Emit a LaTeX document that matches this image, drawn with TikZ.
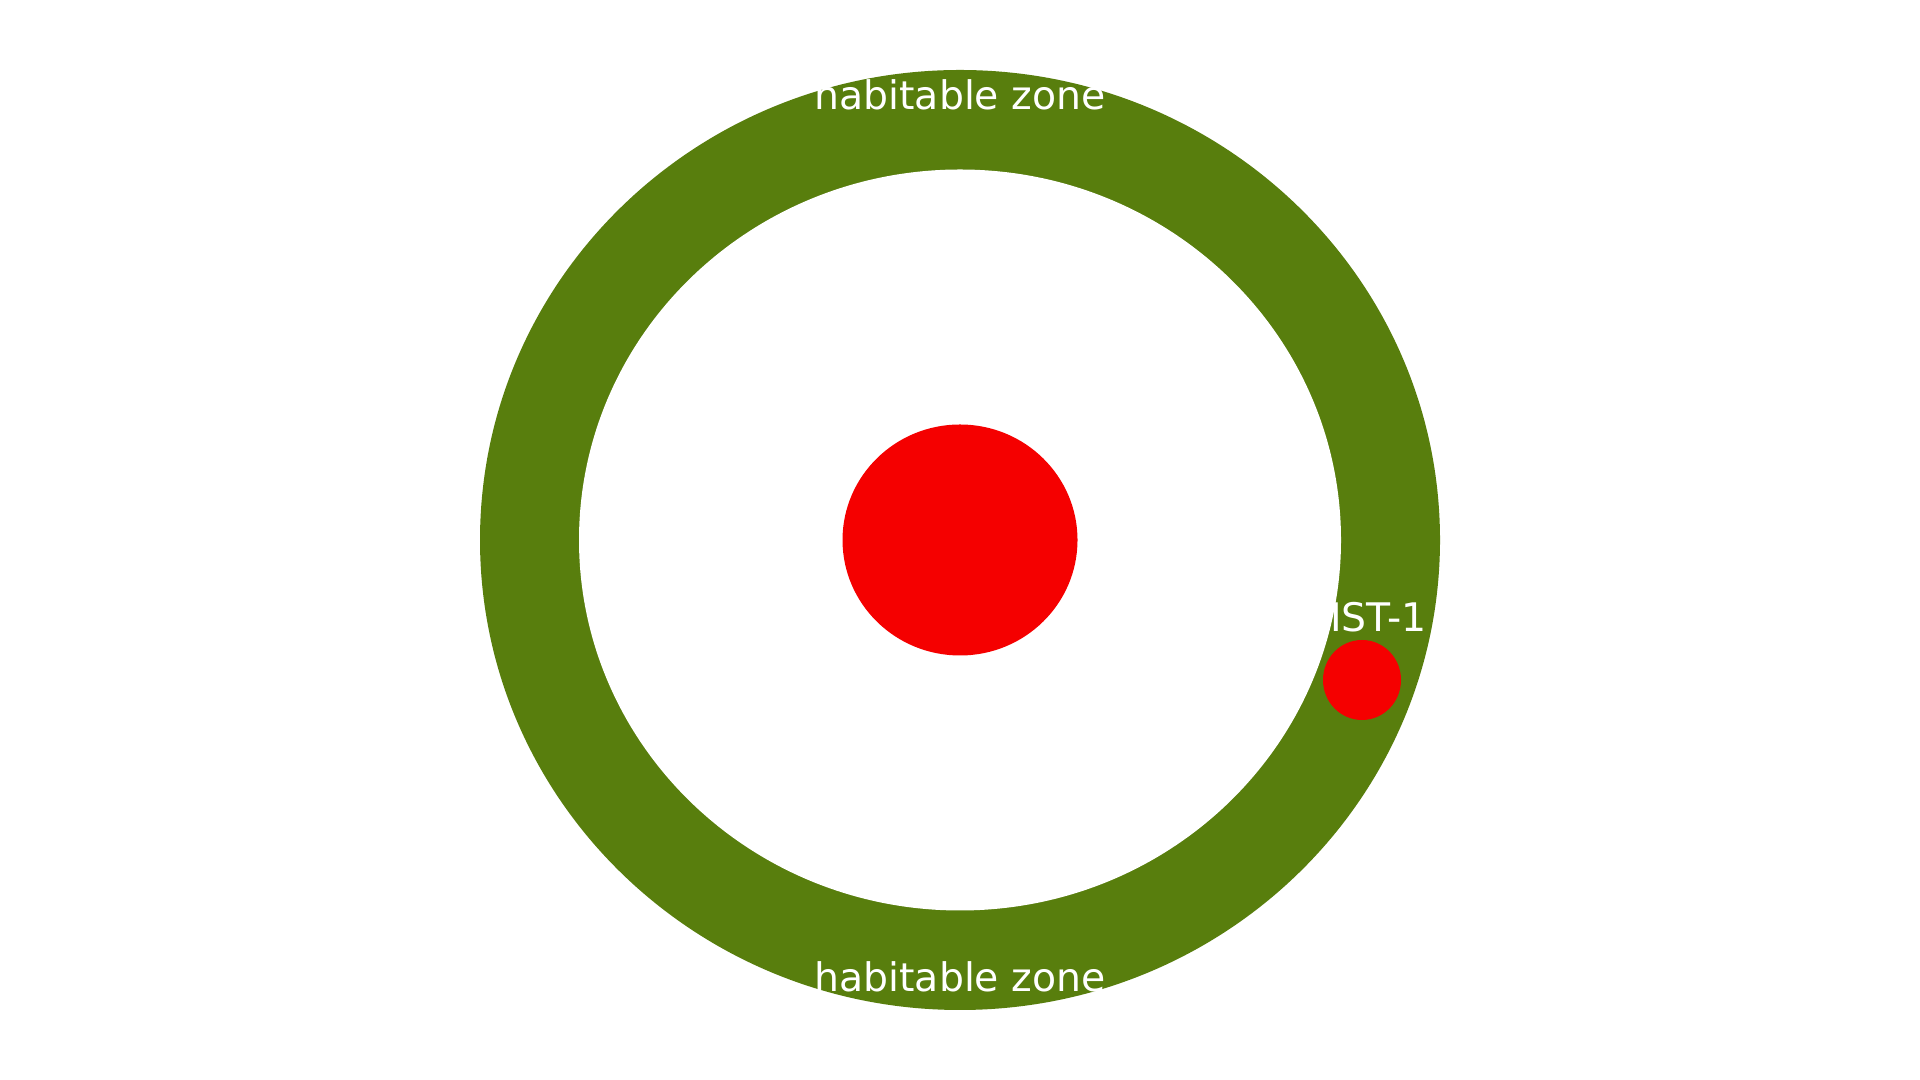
\documentclass[tikz,border=0pt]{standalone}
\usepackage{fontspec}
\setmainfont{DejaVu Sans}
\usepackage{xcolor}
\usetikzlibrary{shapes.geometric}
\definecolor{zonegreen}{RGB}{88,126,13}
\definecolor{starred}{RGB}{245,0,0}

\begin{document}
\begin{tikzpicture}[
        body/.style={ellipse, fill=starred, inner sep=0pt},
        zone/.style={ellipse, inner sep=0pt},
        lbl/.style={text=white, font=\fontsize{11.2}{13}\selectfont, inner sep=0pt}
    ]
        \useasboundingbox[fill=white] (0,0) rectangle (19.2,10.8);
        % Habitable zone ring
        \node[zone, fill=zonegreen, minimum width=9.6cm, minimum height=9.4cm] (outer) at (9.6,5.4) {};
        \node[zone, fill=white, minimum width=7.62cm, minimum height=7.41cm] (inner) at (9.6,5.4) {};

        % Star and planet
        \node[body, minimum width=2.35cm, minimum height=2.31cm] (star) at (9.6,5.4) {};
        \node[body, minimum width=0.78cm, minimum height=0.80cm] (planet) at (13.62,4.0) {};

        % Labels
        \node[lbl, anchor=base] (hztop) at (9.6,9.70) {habitable zone};
        \node[lbl, anchor=base] (hzbot) at (9.6,0.88) {habitable zone};
        \node[lbl, anchor=base east] (name) at (14.27,4.48) {TRAPPIST-1};

    \end{tikzpicture}
\end{document}
